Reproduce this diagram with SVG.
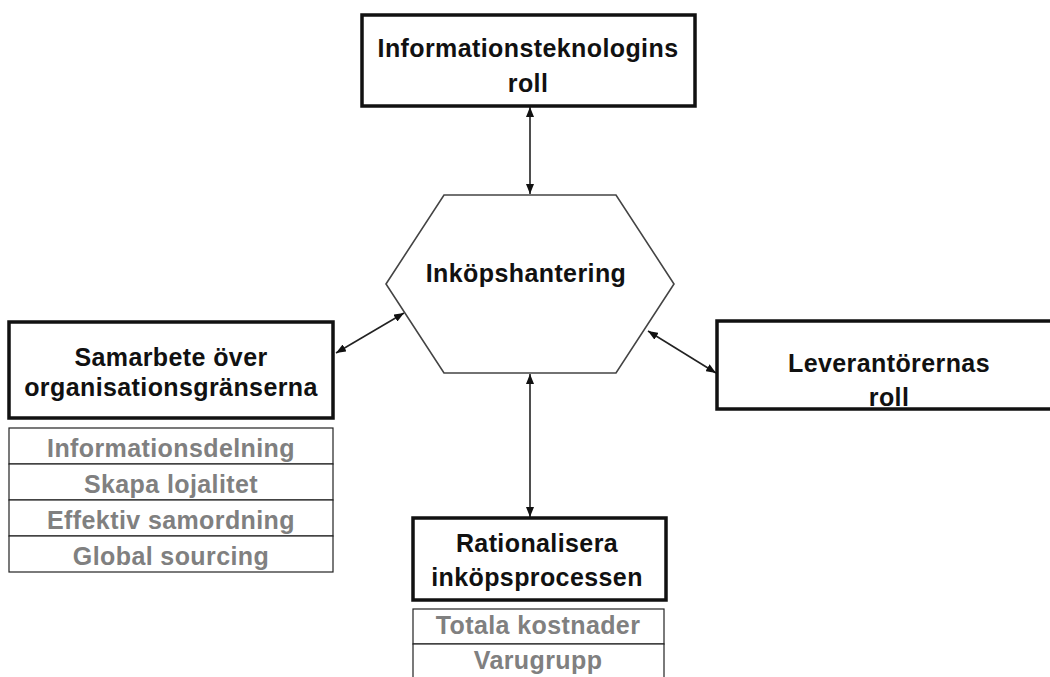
<svg xmlns="http://www.w3.org/2000/svg" width="1050" height="677" viewBox="0 0 1050 677">
  <style>
    .box { fill: #ffffff; stroke: #111111; stroke-width: 3.5; }
    .cell { fill: #ffffff; stroke: #222222; stroke-width: 1.2; }
    .hex { fill: #ffffff; stroke: #444444; stroke-width: 1.6; }
    .title { font-family: "Liberation Sans", Arial, sans-serif; font-weight: bold; font-size: 25px; letter-spacing: 0.4px; fill: #111111; text-anchor: middle; }
    .item { font-family: "Liberation Sans", Arial, sans-serif; font-weight: bold; font-size: 25px; letter-spacing: 0.4px; fill: #808080; text-anchor: middle; }
    .link { stroke: #222222; stroke-width: 1.6; fill: none; marker-start: url(#head); marker-end: url(#head); }
  </style>
  <defs>
    <marker id="head" viewBox="0 0 10 8" refX="10" refY="4" markerWidth="10" markerHeight="8" markerUnits="userSpaceOnUse" orient="auto-start-reverse">
      <path d="M0,0 L10,4 L0,8 Z" fill="#111111"/>
    </marker>
  </defs>
  <rect width="1050" height="677" fill="#ffffff"/>

  <g id="connectors">
    <line class="link" x1="530" y1="107" x2="530" y2="194"/>
    <line class="link" x1="530" y1="374" x2="530" y2="517"/>
    <line class="link" x1="336" y1="353" x2="404" y2="313"/>
    <line class="link" x1="648" y1="331" x2="716" y2="373"/>
  </g>

  <g id="inkopshantering">
    <polygon class="hex" points="386,284 444,195 616,195 674,284 616,373 444,373"/>
    <text class="title" x="526" y="282">Inköpshantering</text>
  </g>

  <g id="it-roll">
    <rect class="box" x="362" y="15" width="333" height="91"/>
    <text class="title" x="528" y="57">Informationsteknologins</text>
    <text class="title" x="528" y="92">roll</text>
  </g>

  <g id="leverantorer">
    <rect class="box" x="717" y="321" width="345" height="88"/>
    <text class="title" x="889" y="372">Leverantörernas</text>
    <text class="title" x="889" y="406">roll</text>
  </g>

  <g id="samarbete">
    <rect class="box" x="9" y="322" width="324" height="96"/>
    <text class="title" x="171" y="366">Samarbete över</text>
    <text class="title" x="171" y="396">organisationsgränserna</text>
  </g>

  <g id="samarbete-items">
    <rect class="cell" x="9" y="428" width="324" height="36"/>
    <rect class="cell" x="9" y="464" width="324" height="36"/>
    <rect class="cell" x="9" y="500" width="324" height="36"/>
    <rect class="cell" x="9" y="536" width="324" height="36"/>
    <text class="item" x="171" y="457">Informationsdelning</text>
    <text class="item" x="171" y="493">Skapa lojalitet</text>
    <text class="item" x="171" y="529">Effektiv samordning</text>
    <text class="item" x="171" y="565">Global sourcing</text>
  </g>

  <g id="rationalisera">
    <rect class="box" x="413" y="518" width="253" height="82"/>
    <text class="title" x="537" y="552">Rationalisera</text>
    <text class="title" x="537" y="586">inköpsprocessen</text>
  </g>

  <g id="rationalisera-items">
    <rect class="cell" x="413" y="609" width="251" height="35"/>
    <rect class="cell" x="413" y="644" width="251" height="36"/>
    <text class="item" x="538" y="634">Totala kostnader</text>
    <text class="item" x="538" y="669">Varugrupp</text>
  </g>
</svg>
